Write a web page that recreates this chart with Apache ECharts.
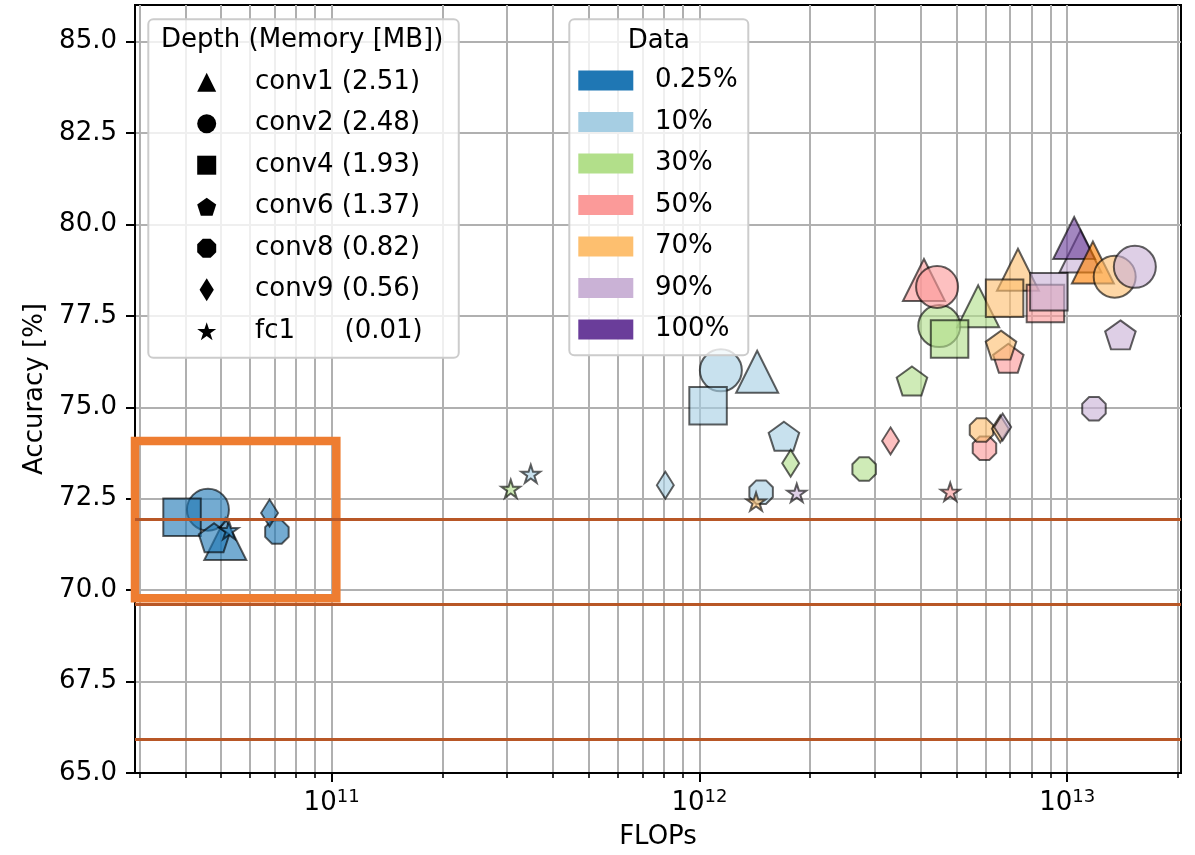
<!DOCTYPE html>
<html>
<head>
<meta charset="utf-8">
<script src="https://cdn.jsdelivr.net/npm/echarts@6/dist/echarts.min.js"></script>
<style>
html, body { margin: 0; padding: 0; background: #fff; }
#chart { width: 1195px; height: 855px; }
</style>
</head>
<body>
<div id="chart"></div>
<script>
var FONT = "'DejaVu Sans', sans-serif";

// legend "Data"
var fracNames = ['0.25%', '10%', '30%', '50%', '70%', '90%', '100%'];
var fracColors = ['#1f77b4', '#a6cee3', '#b2df8a', '#fb9a99', '#fdbf6f', '#cab2d6', '#6a3d9a', '#ff7f00'];

// legend "Depth (Memory [MB])"
var depthNames = ['conv1 (2.51)', 'conv2 (2.48)', 'conv4 (1.93)', 'conv6 (1.37)', 'conv8 (0.82)', 'conv9 (0.56)', 'fc1      (0.01)'];

// points: [FLOPs, accuracy %, index into fracColors]
var conv1Pts = [[5.14e10, 71.40, 0], [1.436e12, 75.97, 1], [5.73e12, 77.76, 2], [4.08e12, 78.48, 3], [7.35e12, 78.76, 4], [1.087e13, 79.26, 5], [1.045e13, 79.63, 6], [1.175e13, 78.96, 7]];
var conv2Pts = [[4.61e10, 72.20, 0], [1.144e12, 76.01, 1], [4.49e12, 77.22, 2], [4.43e12, 78.29, 3], [1.347e13, 78.57, 4], [1.528e13, 78.84, 5]];
var conv4Pts = [[3.92e10, 71.99, 0], [1.056e12, 75.04, 1], [4.79e12, 76.87, 2], [8.73e12, 77.84, 3], [6.76e12, 77.98, 4], [8.92e12, 78.16, 5]];
var conv6Pts = [[4.79e10, 71.43, 0], [1.698e12, 74.21, 1], [3.785e12, 75.72, 2], [6.92e12, 76.34, 3], [6.61e12, 76.70, 4], [1.396e13, 76.98, 5]];
var conv8Pts = [[7.10e10, 71.59, 0], [1.472e12, 72.68, 1], [2.806e12, 73.31, 2], [5.96e12, 73.88, 3], [5.85e12, 74.38, 4], [1.183e13, 74.96, 5]];
var conv9Pts = [[6.78e10, 72.11, 0], [8.08e11, 72.87, 1], [1.771e12, 73.47, 2], [3.31e12, 74.08, 3], [6.58e12, 74.41, 4], [6.68e12, 74.46, 5]];
var fc1Pts = [[5.26e10, 71.64, 0], [3.48e11, 73.18, 1], [3.07e11, 72.77, 2], [4.81e12, 72.69, 3], [1.426e12, 72.42, 4], [1.84e12, 72.66, 5]];

// axes
var xMin = 2.92e10, xMax = 2.04e13;
var xMajor = [1e11, 1e12, 1e13];
var xMinor = [3e10, 4e10, 5e10, 6e10, 7e10, 8e10, 9e10,
  2e11, 3e11, 4e11, 5e11, 6e11, 7e11, 8e11, 9e11,
  2e12, 3e12, 4e12, 5e12, 6e12, 7e12, 8e12, 9e12, 2e13];
var yTicks = [65, 67.5, 70, 72.5, 75, 77.5, 80, 82.5, 85];

// reference lines and highlight box
var hLines = [71.93, 69.62, 65.92];
var boxX = [2.9e10, 1.03e11];
var boxY = [69.78, 74.08];

// marker shapes
var P_TRI = 'path://M0,-1L1,1L-1,1Z';
var P_CIRC = 'path://M-1,0A1,1,0,1,0,1,0A1,1,0,1,0,-1,0Z';
var P_SQ = 'path://M-1,-1L1,-1L1,1L-1,1Z';
var P_PENT = 'path://M0,-1L0.951,-0.309L0.588,0.809L-0.588,0.809L-0.951,-0.309Z';
var P_OCT = 'path://M0.383,-0.924L0.924,-0.383L0.924,0.383L0.383,0.924L-0.383,0.924L-0.924,0.383L-0.924,-0.383L-0.383,-0.924Z';
var P_DIA = 'path://M0,-1L0.62,0L0,1L-0.62,0Z';
var P_STAR = 'path://M0,-1L0.2245,-0.309L0.951,-0.309L0.363,0.118L0.588,0.809L0,0.382L-0.588,0.809L-0.363,0.118L-0.951,-0.309L-0.2245,-0.309Z';

var depthPts = [conv1Pts, conv2Pts, conv4Pts, conv6Pts, conv8Pts, conv9Pts, fc1Pts];
var depthSymbols = ['triangle', 'circle', 'rect', P_PENT, P_OCT, 'diamond', P_STAR];
var depthSizes = [42, 42, 37.5, [30.5, 29], 23.5, [17, 27], [19, 18]];
var legendIcons = [P_TRI, P_CIRC, P_SQ, P_PENT, P_OCT, P_DIA, P_STAR];

var series = [];
depthPts.forEach(function (pts, d) {
  series.push({
    type: 'scatter',
    name: depthNames[d],
    symbol: depthSymbols[d],
    symbolSize: depthSizes[d],
    silent: true,
    z: 2,
    itemStyle: { color: '#000', borderColor: '#000', borderWidth: 2, opacity: 0.62 },
    data: pts.map(function (p) {
      return { value: [p[0], p[1]], itemStyle: { color: fracColors[p[2]] } };
    })
  });
});
fracNames.forEach(function (n, i) {
  series.push({ type: 'scatter', name: n, data: [], itemStyle: { color: fracColors[i] } });
});
series.push({
  type: 'scatter',
  data: [],
  clip: false,
  silent: true,
  markLine: {
    silent: true,
    symbol: ['none', 'none'],
    label: { show: false },
    lineStyle: { color: '#b85726', width: 3, type: 'solid' },
    data: hLines.map(function (v) { return { yAxis: v }; })
  },
  markArea: {
    silent: true,
    itemStyle: { color: 'rgba(0,0,0,0)', borderColor: '#ee7d31', borderWidth: 8.5 },
    data: [[{ coord: [boxX[0], boxY[1]] }, { coord: [boxX[1], boxY[0]] }]]
  }
});

var gridLine = { show: true, lineStyle: { color: '#b0b0b0', width: 2 } };

var option = {
  animation: false,
  grid: { left: 135, right: 14, top: 5, bottom: 82, show: true, borderColor: '#000', borderWidth: 2 },
  xAxis: [{
    type: 'log', logBase: 10, min: xMin, max: xMax, position: 'bottom',
    name: 'FLOPs', nameLocation: 'middle', nameGap: 51,
    nameTextStyle: { fontSize: 26, fontFamily: FONT, color: '#000' },
    axisLine: { show: true, lineStyle: { color: '#000', width: 2 } },
    axisTick: { show: true, length: 9, customValues: xMajor, lineStyle: { color: '#000', width: 2 } },
    axisLabel: {
      customValues: xMajor, margin: 15,
      formatter: function (v) {
        return '{b|10}{s|' + Math.round(Math.log10(v)) + '}';
      },
      rich: {
        b: { fontSize: 26, fontFamily: FONT, color: '#000', lineHeight: 30 },
        s: { fontSize: 18, fontFamily: FONT, color: '#000', lineHeight: 14, verticalAlign: 'top' }
      }
    },
    splitLine: gridLine
  }, {
    type: 'log', logBase: 10, min: xMin, max: xMax, position: 'bottom', gridIndex: 0,
    axisLine: { show: false },
    axisLabel: { show: false },
    axisTick: { show: true, length: 5, customValues: xMinor, lineStyle: { color: '#000', width: 1.6 } },
    splitLine: gridLine
  }],
  yAxis: {
    type: 'value', min: 65, max: 86, interval: 2.5,
    name: 'Accuracy [%]', nameLocation: 'middle', nameGap: 87,
    nameTextStyle: { fontSize: 26, fontFamily: FONT, color: '#000' },
    axisLine: { show: true, lineStyle: { color: '#000', width: 2 } },
    axisTick: { show: true, length: 9, customValues: yTicks, lineStyle: { color: '#000', width: 2 } },
    axisLabel: {
      customValues: yTicks, margin: 18, fontSize: 26, fontFamily: FONT, color: '#000',
      formatter: function (v) { return v.toFixed(1); }
    },
    splitLine: gridLine
  },
  legend: [{
    orient: 'vertical', left: 148.3, top: 19.3,
    padding: [49.9, 36, 13.5, 48.9],
    itemWidth: 19, itemHeight: 23, itemGap: 15.5,
    symbolKeepAspect: true, selectedMode: false,
    backgroundColor: 'rgba(255,255,255,0.8)', borderColor: '#cccccc', borderWidth: 2, borderRadius: 5,
    textStyle: { fontSize: 26, fontFamily: FONT, color: '#000', lineHeight: 23, padding: [0, 0, 0, 33.8] },
    itemStyle: { color: '#000', opacity: 1, borderWidth: 0 },
    data: depthNames.map(function (n, i) { return { name: n, icon: legendIcons[i] }; }),
    z: 10
  }, {
    orient: 'vertical', left: 569.3, top: 19.3,
    padding: [48.2, 10.7, 12.8, 9],
    itemWidth: 55, itemHeight: 20, itemGap: 15.5,
    icon: 'rect', selectedMode: false,
    backgroundColor: 'rgba(255,255,255,0.8)', borderColor: '#cccccc', borderWidth: 2, borderRadius: 5,
    textStyle: { fontSize: 26, fontFamily: FONT, color: '#000', lineHeight: 23, padding: [0, 0, 0, 16.7] },
    data: fracNames.map(function (n, i) {
      return { name: n, itemStyle: { color: fracColors[i], opacity: 1, borderWidth: 0 } };
    }),
    z: 10
  }],
  graphic: [
    { type: 'text', x: 302.2, y: 40.7, z: 20,
      style: { text: 'Depth (Memory [MB])', font: '26px ' + FONT, fill: '#000', align: 'center', verticalAlign: 'middle' } },
    { type: 'text', x: 658.8, y: 41.7, z: 20,
      style: { text: 'Data', font: '26px ' + FONT, fill: '#000', align: 'center', verticalAlign: 'middle' } }
  ],
  series: series
};

var myChart = echarts.init(document.getElementById('chart'));
myChart.setOption(option);
</script>
</body>
</html>
